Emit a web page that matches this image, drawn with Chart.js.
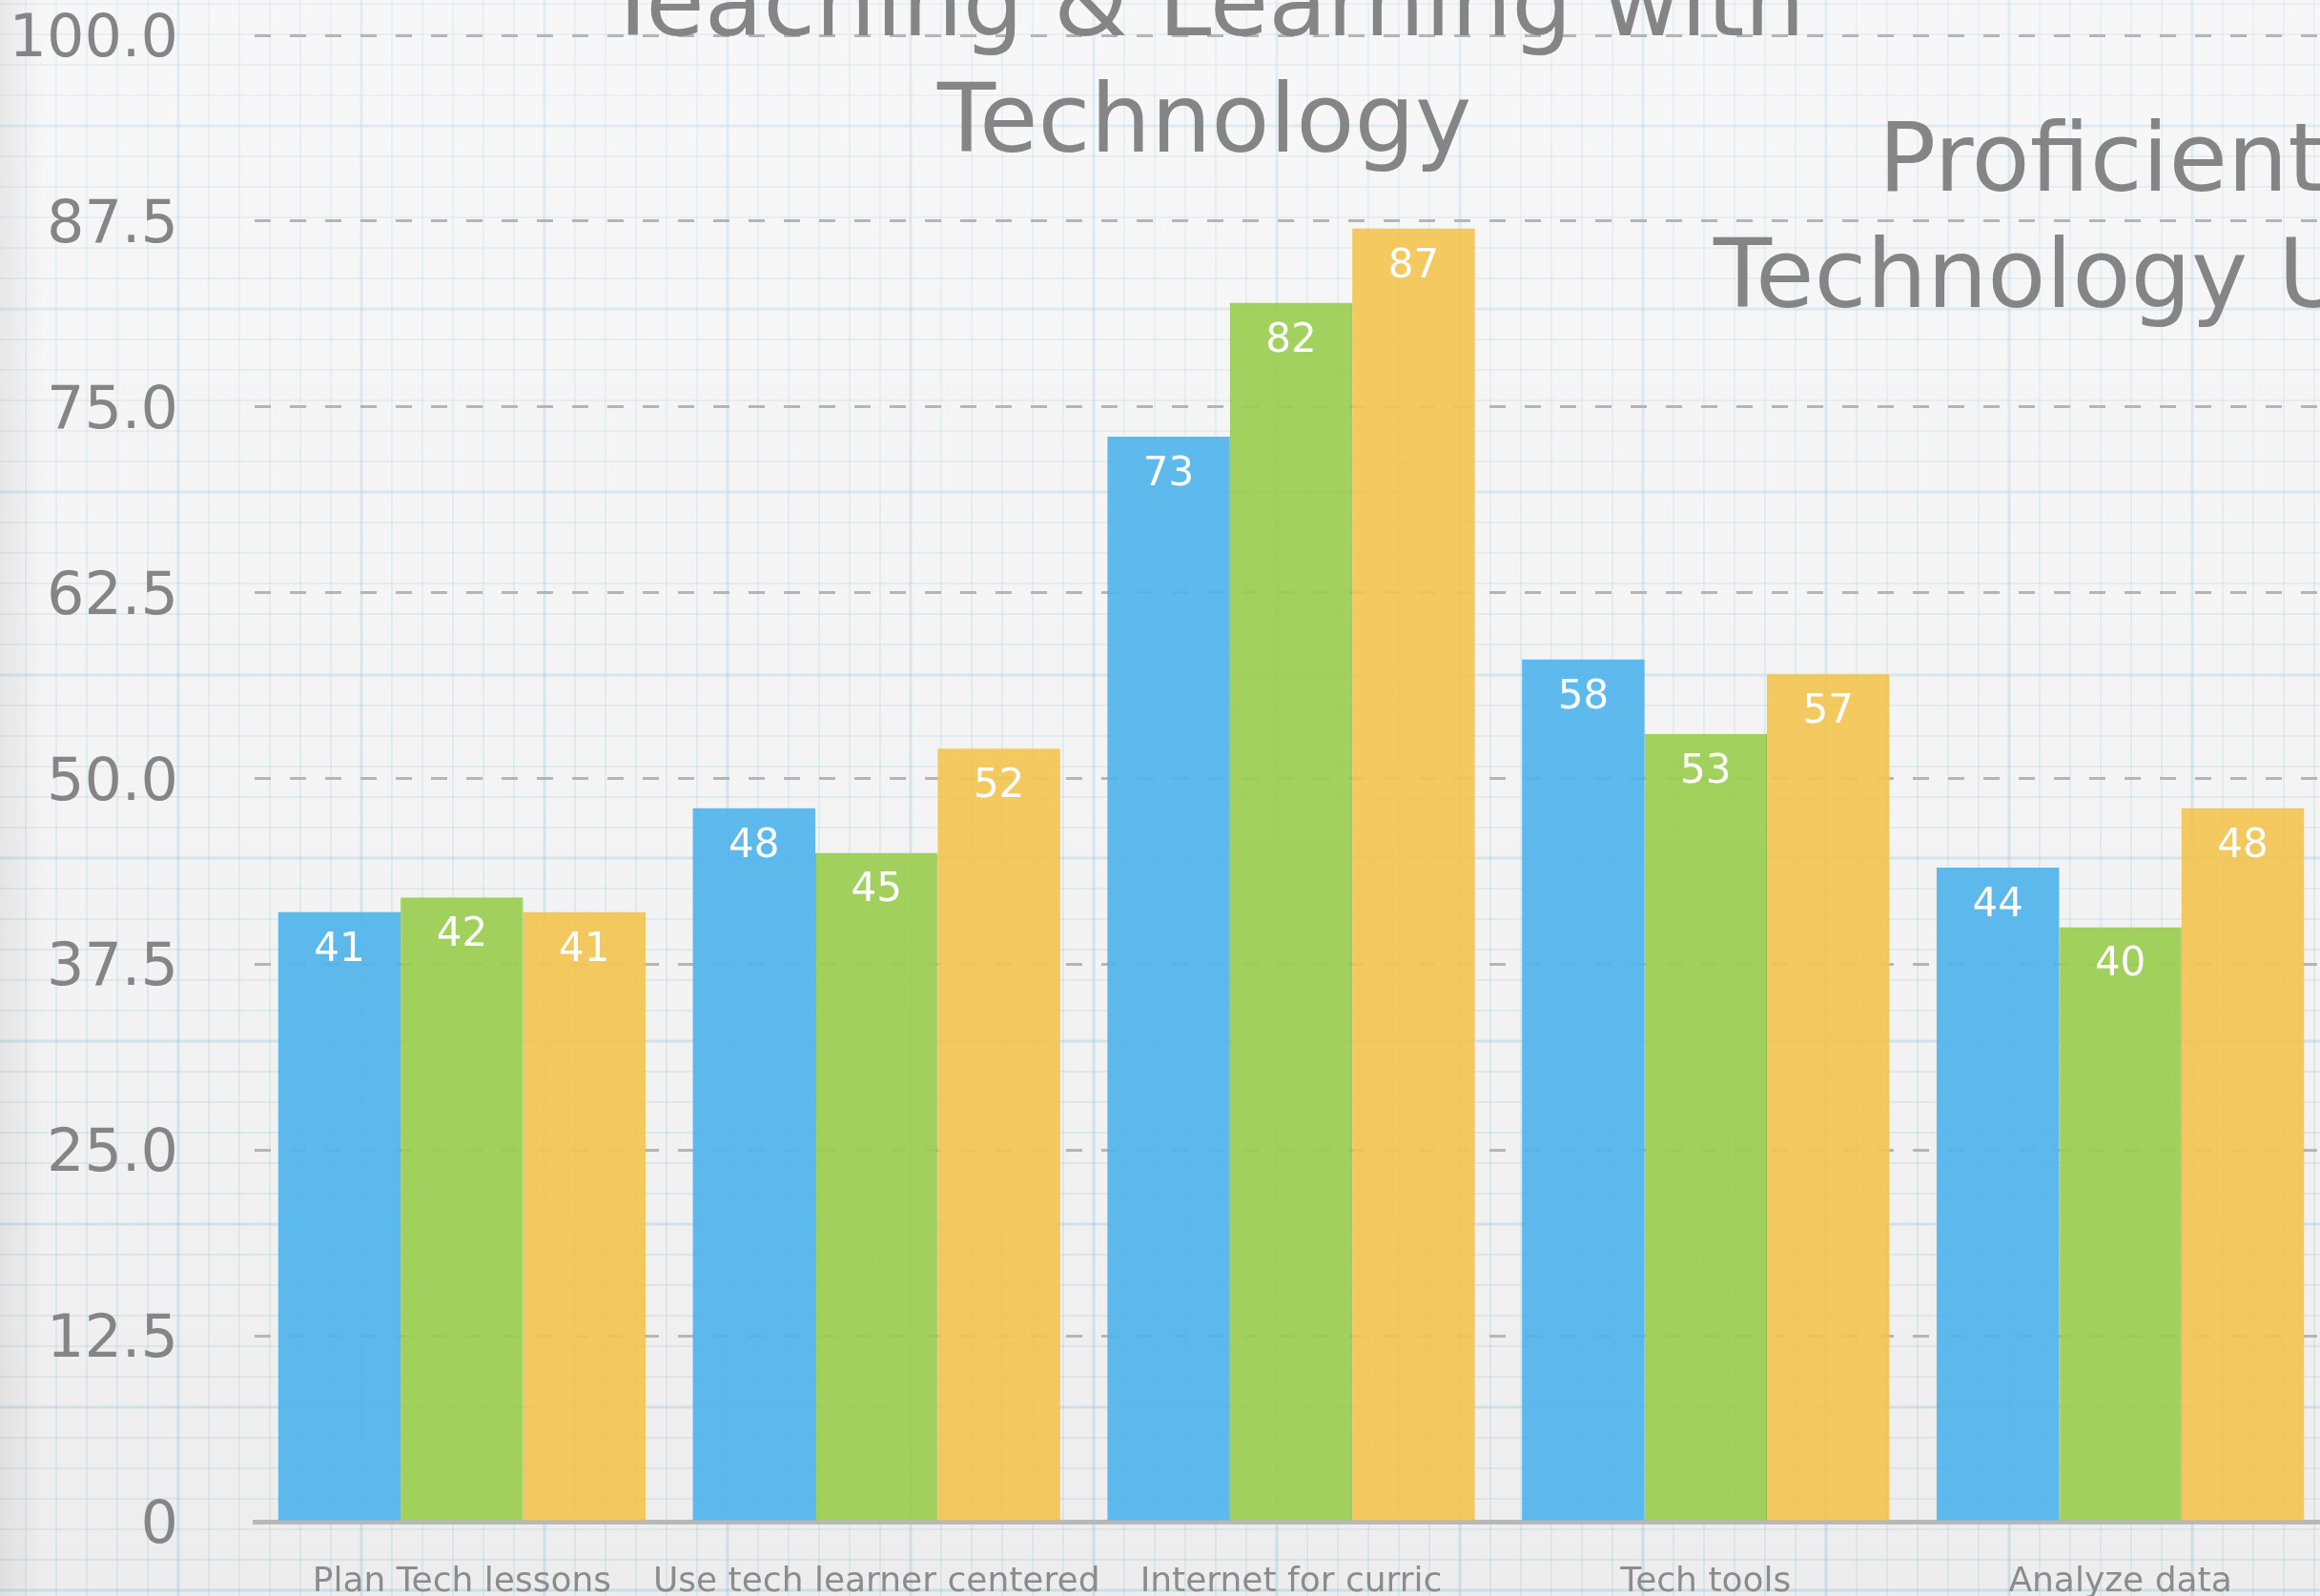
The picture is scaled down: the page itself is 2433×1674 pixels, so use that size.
<!DOCTYPE html>
<html>
<head>
<meta charset="utf-8">
<script src="https://cdn.jsdelivr.net/npm/chart.js@4/dist/chart.umd.min.js"></script>
<style>
    html, body {
        margin: 0;
        padding: 0;
        width: 2433px;
        height: 1674px;
        overflow: hidden;
    }
    body {
        background-color: #f3f3f3;
        background-image:
            linear-gradient(to right, rgba(0, 0, 0, 0.06), rgba(0, 0, 0, 0) 45px),
            linear-gradient(to bottom, rgba(255, 255, 255, 0.35), rgba(255, 255, 255, 0) 60%, rgba(0, 0, 0, 0.025)),
            linear-gradient(to right, rgba(140, 195, 220, 0.16) 4px, transparent 4px),
            linear-gradient(to bottom, rgba(140, 195, 220, 0.16) 4px, transparent 4px),
            linear-gradient(to right, rgba(140, 195, 220, 0.2) 2px, transparent 2px),
            linear-gradient(to bottom, rgba(140, 195, 220, 0.2) 2px, transparent 2px);
        background-size:
            100% 100%,
            100% 100%,
            192px 192px,
            192px 192px,
            32px 32px,
            32px 32px;
        background-position:
            0 0,
            0 0,
            185px 0,
            0 130px,
            26px 0,
            0 3px;
    }
    #chartBox {
        position: absolute;
        left: 0;
        top: 0;
    }
</style>
</head>
<body>
<canvas id="chartBox" width="2441" height="1674" style="width:2441px;height:1674px"></canvas>
<script>
// Données du graphique
const categories = ['Plan Tech lessons', 'Use tech learner centered', 'Internet for curric', 'Tech tools', 'Analyze data'];
const seriesBlue = [41, 48, 73, 58, 44];
const seriesGreen = [42, 45, 82, 53, 40];
const seriesYellow = [41, 52, 87, 57, 48];
const yTickLabels = ['0', '12.5', '25.0', '37.5', '50.0', '62.5', '75.0', '87.5', '100.0'];
const titleLeft = ['Teaching & Learning with', 'Technology'];
const titleRight = ['Proficient', 'Technology Use'];

const FONT = '"DejaVu Sans", "Liberation Sans", sans-serif';

// Valeurs blanches en haut des barres
const barValueLabels = {
    id: 'barValueLabels',
    afterDatasetsDraw(chart) {
        const ctx = chart.ctx;
        ctx.save();
        ctx.font = '42px ' + FONT;
        ctx.fillStyle = '#ffffff';
        ctx.textAlign = 'center';
        ctx.textBaseline = 'middle';
        chart.data.datasets.forEach((ds, i) => {
            chart.getDatasetMeta(i).data.forEach((bar, j) => {
                ctx.fillText(String(ds.data[j]), bar.x, bar.y + 40);
            });
        });
        ctx.restore();
    }
};

// Titres (deux graphiques qui se chevauchent sur la capture)
const overlapTitles = {
    id: 'overlapTitles',
    afterDraw(chart) {
        const ctx = chart.ctx;
        ctx.save();
        ctx.font = '100px ' + FONT;
        ctx.fillStyle = '#858585';
        ctx.textBaseline = 'alphabetic';
        ctx.textAlign = 'center';
        titleLeft.forEach((line, i) => ctx.fillText(line, 1263, 37 + i * 122));
        // le second titre est coupé par le bord droit
        ctx.textAlign = 'left';
        ctx.fillText(titleRight[0], 1970, 200);
        ctx.fillText(titleRight[1], 1797, 322);
        ctx.restore();
    }
};

const ctx = document.getElementById('chartBox');

new Chart(ctx, {
    type: 'bar',
    data: {
        labels: categories,
        datasets: [{
            label: 'Série 1',
            data: seriesBlue,
            backgroundColor: 'rgba(80, 180, 235, 0.92)',
            borderWidth: 0
        }, {
            label: 'Série 2',
            data: seriesGreen,
            backgroundColor: 'rgba(154, 205, 80, 0.92)',
            borderColor: 'rgba(125, 185, 55, 0.9)',
            borderWidth: { left: 1, right: 1, top: 0, bottom: 0 }
        }, {
            label: 'Série 3',
            data: seriesYellow,
            backgroundColor: 'rgba(242, 196, 82, 0.92)',
            borderWidth: 0
        }]
    },
    options: {
        responsive: false,
        animation: false,
        devicePixelRatio: 1,
        categoryPercentage: 0.886,
        barPercentage: 1.0,
        layout: {
            padding: { top: 37, right: 0, bottom: 0, left: 0 }
        },
        plugins: {
            legend: { display: false },
            title: { display: false },
            tooltip: { enabled: false }
        },
        scales: {
            x: {
                grid: { display: false, drawTicks: false },
                border: { display: true, color: '#b8b8b8', width: 5 },
                ticks: {
                    color: '#8c8c8c',
                    padding: 42,
                    maxRotation: 0,
                    autoSkip: false,
                    font: { family: FONT, size: 36 }
                },
                afterFit(scale) {
                    scale.height = 78;
                }
            },
            y: {
                min: 0,
                max: 100,
                border: { display: false, dash: [17, 20] },
                grid: {
                    color: '#b5b5b5',
                    lineWidth: 3,
                    drawTicks: false
                },
                ticks: {
                    stepSize: 12.5,
                    color: '#858585',
                    padding: 80,
                    labelOffset: 6,
                    font: { family: FONT, size: 62, lineHeight: 1.1 },
                    callback: (value, index) => yTickLabels[index]
                },
                afterFit(scale) {
                    scale.width = 267;
                    // le padding des ticks ne doit pas réduire la zone du graphique
                    scale.paddingTop = 0;
                    scale.paddingBottom = 0;
                }
            }
        }
    },
    plugins: [barValueLabels, overlapTitles]
});
</script>
</body>
</html>
